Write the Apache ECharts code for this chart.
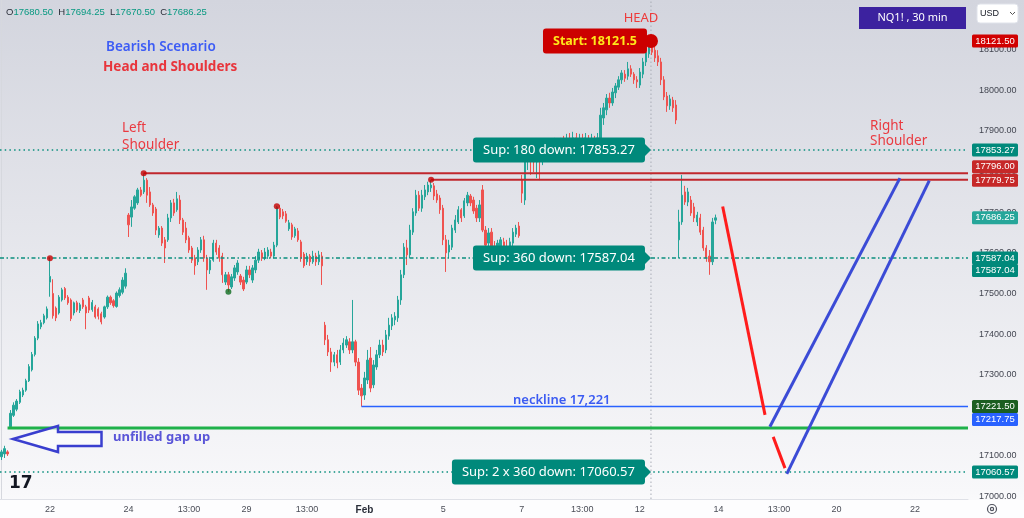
<!DOCTYPE html>
<html><head><meta charset="utf-8">
<script src="https://cdn.jsdelivr.net/npm/echarts@6/dist/echarts.min.js"></script>
<style>html,body{margin:0;padding:0;background:#fff}#c{width:1024px;height:518px}</style>
</head><body><div id="c"></div>
<script>
// ---------- time axis ----------
const sessionTimes = ['09:30','10:00','10:30','11:00','11:30','12:00','12:30','13:00','13:30','14:00','14:30','15:00','15:30'];
const jan18Times = ['14:30','15:00','15:30'];
const tradingDays = ['2024-01-19','2024-01-22','2024-01-23','2024-01-24','2024-01-25','2024-01-26','2024-01-29','2024-01-30','2024-01-31','2024-02-01','2024-02-02','2024-02-05','2024-02-06','2024-02-07','2024-02-08','2024-02-09','2024-02-12','2024-02-13'];
const futureDays = ['2024-02-14','2024-02-15','2024-02-16','2024-02-20','2024-02-21','2024-02-22','2024-02-23'];
const xTickLabels = {
  '2024-01-22 09:30':'22','2024-01-24 09:30':'24','2024-01-25 13:00':'13:00','2024-01-29 09:30':'29',
  '2024-01-30 13:00':'13:00','2024-02-01 09:30':'Feb','2024-02-05 09:30':'5','2024-02-07 09:30':'7',
  '2024-02-08 13:00':'13:00','2024-02-12 09:30':'12','2024-02-14 09:30':'14','2024-02-15 13:00':'13:00',
  '2024-02-20 09:30':'20','2024-02-22 09:30':'22'
};
const yTickLabels = [17000,17100,17200,17300,17400,17500,17600,17700,17800,17900,18000,18100];

// ---------- candles [open, close, low, high] ----------
const week3 = [ // Jan 18 (last bars) + Jan 19
[17098,17110,17090,17115],[17105,17118,17095,17125],[17110,17105,17100,17114],
[17172,17205,17169,17213],[17200,17225,17196,17232],[17215,17235,17210,17240],[17232,17258,17228,17263],
[17250,17262,17245,17268],[17262,17285,17258,17290],[17285,17320,17282,17326],[17312,17350,17308,17356],
[17350,17390,17345,17395],[17390,17425,17385,17432],[17418,17428,17412,17435],[17428,17445,17424,17450],
[17440,17462,17436,17468]];
const week4 = [ // Jan 22 - Jan 26
[17528,17542,17492,17587],[17500,17445,17438,17535],[17464,17440,17432,17468],[17452,17491,17448,17496],
[17484,17509,17480,17514],[17512,17489,17484,17516],[17491,17477,17472,17496],[17484,17438,17432,17488],
[17452,17477,17446,17480],[17477,17459,17454,17482],[17458,17472,17452,17477],[17484,17467,17462,17489],
[17467,17452,17412,17472],
[17489,17459,17452,17494],[17460,17478,17455,17484],[17467,17442,17438,17472],[17462,17444,17436,17466],
[17450,17430,17424,17455],[17442,17467,17438,17470],[17467,17491,17462,17495],[17491,17477,17472,17495],
[17482,17470,17465,17486],[17468,17501,17465,17505],[17495,17509,17490,17515],[17503,17533,17498,17540],
[17518,17550,17512,17562],
[17693,17669,17639,17698],[17688,17713,17664,17730],[17710,17738,17706,17742],[17723,17755,17718,17760],
[17755,17742,17738,17762],[17750,17779,17745,17796],[17779,17742,17723,17784],[17750,17718,17713,17762],
[17718,17698,17691,17723],[17708,17656,17644,17713],[17644,17661,17637,17666],[17661,17624,17617,17666],
[17632,17612,17575,17639],
[17632,17686,17627,17696],[17686,17723,17676,17730],[17723,17698,17691,17733],[17706,17733,17701,17750],
[17730,17681,17671,17742],[17681,17651,17644,17686],[17661,17632,17624,17676],[17637,17607,17600,17642],
[17612,17582,17575,17617],[17587,17568,17546,17595],[17578,17607,17570,17614],[17607,17632,17600,17639],
[17632,17587,17578,17642],
[17587,17558,17509,17595],[17558,17582,17548,17590],[17582,17624,17578,17632],[17624,17602,17595,17632],
[17612,17587,17578,17619],[17592,17546,17526,17600],[17528,17546,17521,17553],[17546,17521,17504,17553],
[17516,17541,17511,17548],[17538,17563,17531,17570],[17553,17575,17546,17582],[17543,17528,17521,17548],
[17533,17511,17506,17541]];
const week5 = [ // Jan 29 - Feb 2
[17528,17558,17523,17568],[17558,17546,17538,17568],[17533,17563,17526,17570],[17558,17582,17550,17592],
[17582,17602,17575,17610],[17600,17587,17580,17607],[17587,17602,17582,17612],[17592,17607,17585,17614],
[17602,17592,17587,17610],[17592,17619,17587,17627],[17619,17713,17614,17715],[17710,17688,17683,17718],
[17701,17691,17683,17708],
[17696,17678,17674,17703],[17659,17674,17654,17681],[17669,17639,17632,17674],[17642,17659,17637,17664],
[17654,17632,17627,17661],[17627,17587,17578,17632],[17597,17568,17563,17602],[17578,17592,17570,17600],
[17592,17578,17568,17597],[17578,17592,17573,17605],[17592,17578,17568,17600],[17578,17595,17570,17605],
[17592,17568,17521,17602],
[17422,17386,17373,17430],[17386,17356,17346,17398],[17356,17331,17307,17366],[17331,17349,17321,17356],
[17349,17329,17316,17361],[17331,17361,17324,17373],[17361,17378,17353,17390],[17373,17386,17366,17395],
[17381,17361,17351,17390],[17361,17381,17353,17484],[17381,17331,17321,17386],[17331,17262,17250,17341],
[17267,17248,17221.5,17277],
[17250,17292,17238,17307],[17287,17336,17277,17361],[17341,17267,17257,17368],[17275,17324,17267,17336],
[17319,17349,17312,17361],[17349,17373,17341,17386],[17373,17356,17346,17386],[17361,17398,17353,17410],
[17395,17422,17386,17440],[17420,17440,17410,17449],[17435,17444,17422,17454],[17440,17484,17430,17494],
[17484,17546,17472,17558],
[17546,17614,17538,17624],[17612,17595,17570,17632],[17595,17656,17587,17669],[17651,17701,17644,17710],
[17698,17742,17691,17755],[17742,17710,17703,17752],[17710,17742,17701,17755],[17738,17755,17730,17767],
[17750,17767,17742,17775],[17760,17767,17750,17779.75],[17765,17740,17730,17772],[17745,17730,17723,17755],
[17735,17706,17696,17742]];
const week6 = [ // Feb 5 - Feb 9
[17710,17632,17619,17718],[17632,17600,17553,17644],[17602,17619,17587,17632],[17614,17661,17607,17669],
[17656,17681,17649,17693],[17676,17706,17671,17715],[17706,17686,17676,17710],[17691,17728,17686,17735],
[17723,17742,17715,17750],[17740,17723,17715,17745],[17730,17703,17696,17738],[17710,17686,17676,17718],
[17686,17718,17676,17730],
[17755,17656,17651,17767],[17656,17619,17607,17666],[17624,17649,17614,17661],[17651,17612,17592,17661],
[17617,17595,17558,17629],[17595,17624,17578,17632],[17617,17632,17587,17639],[17627,17607,17578,17637],
[17614,17587,17563,17632],[17592,17627,17582,17637],[17624,17651,17617,17661],[17646,17661,17639,17669],
[17666,17642,17637,17676],
[17779,17747,17723,17792],[17730,17841,17718,17853],[17834,17858,17804,17878],[17858,17834,17792,17878],
[17836,17824,17799,17866],[17824,17853,17784,17866],[17853,17829,17779,17873],[17829,17848,17816,17866],
[17853,17834,17824,17870],[17834,17858,17824,17878],[17858,17841,17829,17878],[17841,17866,17834,17883],
[17863,17848,17834,17878],
[17848,17868,17829,17883],[17868,17853,17838,17888],[17853,17878,17841,17893],[17878,17858,17846,17895],
[17858,17883,17848,17898],[17883,17863,17848,17895],[17863,17878,17841,17893],[17878,17866,17853,17893],
[17866,17883,17853,17895],[17878,17863,17848,17890],[17863,17875,17853,17893],[17875,17861,17853,17888],
[17861,17883,17841,17895],
[17878,17939,17866,17957],[17932,17957,17915,17969],[17952,17981,17939,17991],[17981,17969,17957,17994],
[17969,17996,17962,18006],[17994,18011,17981,18018],[18008,18026,18001,18035],[18026,18043,18016,18050],
[18040,18030,18021,18050],[18035,18053,18026,18070],[18053,18040,18033,18062],[18040,18026,18016,18045],
[18026,18021,18006,18035]];
const week7 = [ // Feb 12 - Feb 13
[18013,18045,18006,18055],[18040,18070,18030,18080],[18070,18094,18060,18104],[18090,18109,18080,18121.5],
[18109,18094,18087,18119],[18099,18080,18070,18109],[18085,18070,18060,18099],[18070,18026,18013,18080],
[18026,17984,17976,18035],[17986,17962,17947,17996],[17962,17979,17952,17989],[17976,17957,17947,17984],
[17964,17927,17917,17976],
[17632,17676,17587,17706],[17676,17742,17669,17792],[17750,17725,17718,17765],[17725,17750,17715,17760],
[17730,17698,17691,17740],[17713,17686,17676,17723],[17676,17693,17666,17701],[17686,17651,17644,17696],
[17656,17612,17605,17664],[17612,17587,17578,17619],[17592,17578,17546,17607],[17578,17676,17570,17686],
[17680.5,17686.25,17670.5,17694.25]];

// ---------- drawings (x in bar index, y in price) ----------
const headIndex = 214.7;
const headPrice = 18121.5;
const supPrices = [17853.27, 17587.04, 17060.57];
const supTexts = ['Sup: 180 down: 17853.27', 'Sup: 360 down: 17587.04', 'Sup: 2 x 360 down: 17060.57'];
const shoulderLevels = [17796, 17779.75];
const shoulderStarts = [47, 142];
const necklinePrice = 17221.5, necklineStart = 119;
const gapPrice = 17169, gapStart = 2;
const pivotHighs = [[16,17587],[47,17796],[91,17715],[142,17779.75]];
const pivotLows = [[75,17504]];
const redPathA = [[238.4,17714],[252.4,17201]];
const redPathB = [[255.1,17147],[259.0,17070]];
const bluePathA = [[254.0,17172],[297.0,17784]];
const bluePathB = [[259.6,17056],[306.7,17778]];
const tagValues = [18121.50, 17853.27, 17796.00, 17779.75, 17686.25, 17587.04, 17587.04, 17221.50, 17217.75, 17060.57];
const tagColors = ['#d10000','#00897b','#c62828','#c62828','#26a69a','#00897b','#00897b','#1b5e20','#2962ff','#00897b'];
const tagShift = [0,0,-6.5,0.5,0,0,12.5,0,11.5,0];

// ---------- build ----------
const categories = [];
jan18Times.forEach(t => categories.push('2024-01-18 ' + t));
tradingDays.concat(futureDays).forEach(d => sessionTimes.forEach(t => categories.push(d + ' ' + t)));
const candles = [].concat(week3, week4, week5, week6, week7);
const lastBar = candles[candles.length - 1];
const lastX = 319.5;
const FONT = 'Noto Sans';

function seg(points, color, width, type, z) {
  return {type:'line', xAxisIndex:1, yAxisIndex:0, data:points, symbol:'none', silent:true,
    lineStyle:{color:color, width:width, type:type || 'solid'}, z: z || 4, animation:false};
}

const chart = echarts.init(document.getElementById('c'));
const option = {
  animation:false,
  backgroundColor:{type:'linear',x:0,y:0,x2:0,y2:1,colorStops:[{offset:0,color:'#d3d5de'},{offset:0.95,color:'#f8f8fa'},{offset:1,color:'#fdfdfe'}]},
  grid:{left:0,right:56,top:0,bottom:19},
  xAxis:[
    {type:'category', data:categories, max:319, boundaryGap:true,
     axisLine:{show:true,lineStyle:{color:'#dfe1e7'}}, axisTick:{show:false}, splitLine:{show:false},
     axisLabel:{interval:(i,v)=> (v in xTickLabels), formatter:v => v in xTickLabels ? (xTickLabels[v]==='Feb' ? '{b|Feb}' : xTickLabels[v]) : '',
       color:'#4a4d57', fontSize:9, fontFamily:'Liberation Sans', margin:6, rich:{b:{fontSize:10,fontWeight:'bold',color:'#2a2e39',fontFamily:'Liberation Sans'}}}},
    {type:'value', min:-0.5, max:lastX, show:false}
  ],
  yAxis:{type:'value', position:'right', min:16994, max:18222.5, splitNumber:12, scale:true,
    axisLine:{show:true,lineStyle:{color:'#d6d8de'}}, axisTick:{show:false}, splitLine:{show:false},
    axisLabel:{showMinLabel:false, showMaxLabel:false, color:'#434651', fontSize:9, fontFamily:'Liberation Sans', margin:11,
      formatter:v => yTickLabels.indexOf(Math.round(v)) >= 0 && Math.abs(v-Math.round(v))<0.01 ? Math.round(v).toFixed(2) : ''}},
  series:[
    {type:'candlestick', xAxisIndex:0, yAxisIndex:0, data:candles, barWidth:1.8, z:3,
     itemStyle:{color:'#26a69a', color0:'#ef5350', borderColor:'#26a69a', borderColor0:'#ef5350', borderWidth:1}},
    seg([[headIndex,16994],[headIndex,18222.5]], '#a9acb5', 1, [1.5,2.5], 2),
    seg([[-0.5,supPrices[0]],[lastX,supPrices[0]]], '#0a8f7e', 1.5, [1.5,3.2]),
    seg([[-0.5,supPrices[1]],[lastX,supPrices[1]]], '#0a8f7e', 1.5, [4,2.5,1.5,2.5]),
    seg([[-0.5,supPrices[2]],[lastX,supPrices[2]]], '#0a8f7e', 1.5, [1.5,3.2]),
    seg([[shoulderStarts[0],shoulderLevels[0]],[lastX,shoulderLevels[0]]], '#c0272d', 2),
    seg([[shoulderStarts[1],shoulderLevels[1]],[lastX,shoulderLevels[1]]], '#c0272d', 2),
    seg([[necklineStart,necklinePrice],[lastX,necklinePrice]], '#2962ff', 1.5),
    seg([[gapStart,gapPrice],[lastX,gapPrice]], '#1fb14a', 3),
    seg(redPathA, '#ff1c1c', 3, 'solid', 5),
    seg(redPathB, '#ff1c1c', 3, 'solid', 5),
    seg(bluePathA, '#3b4bd6', 3, 'solid', 5),
    seg(bluePathB, '#3b4bd6', 3, 'solid', 5),
    {type:'scatter', xAxisIndex:1, yAxisIndex:0, data:pivotHighs, symbolSize:6, itemStyle:{color:'#c40000'}, z:6, silent:true},
    {type:'scatter', xAxisIndex:1, yAxisIndex:0, data:pivotLows, symbolSize:6, itemStyle:{color:'#0d6b1e'}, z:6, silent:true}
  ]
};
chart.setOption(option);

function px(x, p) { return chart.convertToPixel({xAxisIndex:1, yAxisIndex:0}, [x, p]); }
const g = [];
g.push({type:'rect', shape:{x:0,y:500,width:1024,height:18}, style:{fill:'#fdfdfe'}, z:0});
const f2 = v => v.toFixed(2);
g.push({type:'text', x:6, y:12, z:100, style:{text:'{l|O}{v|'+f2(lastBar[0])+'}  {l|H}{v|'+f2(lastBar[3])+'}  {l|L}{v|'+f2(lastBar[2])+'}  {l|C}{v|'+f2(lastBar[1])+'}',
  verticalAlign:'middle', font:'9.5px Liberation Sans', rich:{l:{fill:'#2a2e39',font:'9.5px Liberation Sans'}, v:{fill:'#089981',font:'9.5px Liberation Sans'}}}});
g.push({type:'text', x:106, y:47, z:100, style:{text:'Bearish Scenario', fill:'#3d5cf5', font:'600 13.5px '+FONT, verticalAlign:'middle'}});
g.push({type:'text', x:103, y:67, z:100, style:{text:'Head and Shoulders', fill:'#e8353c', font:'bold 13.5px '+FONT, verticalAlign:'middle'}});
g.push({type:'text', x:641, y:18, z:100, style:{text:'HEAD', fill:'#ee3a3a', font:'13px '+FONT, align:'center', verticalAlign:'middle'}});
g.push({type:'text', x:122, y:120, z:100, style:{text:'Left\nShoulder', fill:'#ea3a40', font:'13.5px '+FONT, lineHeight:16.5, verticalAlign:'top'}});
g.push({type:'text', x:870, y:118, z:100, style:{text:'Right\nShoulder', fill:'#ea3a40', font:'13.5px '+FONT, lineHeight:15.5, verticalAlign:'top'}});
g.push({type:'text', x:513, y:400, z:100, style:{text:'neckline 17,221', fill:'#3b5bf2', font:'600 13px '+FONT, verticalAlign:'middle'}});
g.push({type:'text', x:113, y:437, z:100, style:{text:'unfilled gap up', fill:'#5a55d8', font:'bold 13px '+FONT, verticalAlign:'middle'}});
g.push({type:'polygon', z:100, shape:{points:[[13,439],[58,426],[58,432],[101.5,432],[101.5,446],[58,446],[58,452]]},
  style:{fill:'rgba(255,255,255,0.55)', stroke:'#3a3fcf', lineWidth:2.5, lineJoin:'miter'}});
supPrices.forEach((p, k) => {
  const [tx, ty] = px(headIndex, p);
  g.push({type:'polygon', z:100, shape:{points:[[tx-7,ty-7],[tx,ty],[tx-7,ty+7]]}, style:{fill:'#00897b'}});
  g.push({type:'text', x:tx-6, y:ty, z:101, style:{text:supTexts[k], fill:'#ffffff', font:'13px '+FONT,
    backgroundColor:'#00897b', padding:[6,10,6,10], borderRadius:3, align:'right', verticalAlign:'middle'}});
});
const [sx, sy] = px(headIndex, headPrice);
g.push({type:'text', x:sx-4, y:sy, z:101, style:{text:'Start: '+headPrice, fill:'#ffe81a', font:'bold 12.5px '+FONT,
  backgroundColor:'#cc0000', padding:[6,10,6,10], borderRadius:3, align:'right', verticalAlign:'middle'}});
g.push({type:'circle', z:102, shape:{cx:sx, cy:sy, r:7}, style:{fill:'#cc0000'}});
tagValues.forEach((v, k) => {
  const y = px(0, v)[1] + tagShift[k];
  g.push({type:'rect', z:110, shape:{x:972, y:y-6.5, width:46, height:13, r:1.5}, style:{fill:tagColors[k]}});
  g.push({type:'text', z:111, x:995, y:y, style:{text:v.toFixed(2), fill:'#ffffff', font:'9.5px Liberation Sans', align:'center', verticalAlign:'middle'}});
});
g.push({type:'rect', z:110, shape:{x:859, y:7, width:107, height:22}, style:{fill:'#3c229f'}});
g.push({type:'text', z:111, x:912.5, y:18, style:{text:'NQ1! , 30 min', fill:'#ffffff', font:'11px '+FONT, align:'center', verticalAlign:'middle'}});
g.push({type:'rect', z:110, shape:{x:977, y:4, width:41, height:19, r:3}, style:{fill:'#ffffff', stroke:'#e0e3eb'}});
g.push({type:'text', z:111, x:980, y:13.5, style:{text:'USD', fill:'#131722', font:'9px Liberation Sans', verticalAlign:'middle'}});
g.push({type:'polyline', z:111, shape:{points:[[1010,12],[1012.5,14.5],[1015,12]]}, style:{stroke:'#555', lineWidth:1, fill:null}});
g.push({type:'circle', z:111, shape:{cx:992, cy:509, r:4.5}, style:{fill:null, stroke:'#50535e', lineWidth:1.2}});
g.push({type:'circle', z:111, shape:{cx:992, cy:509, r:1.6}, style:{fill:null, stroke:'#50535e', lineWidth:1.2}});
g.push({type:'text', z:111, x:9, y:484, style:{text:'17', fill:'#131722', font:'bold 17px DejaVu Sans', verticalAlign:'middle'}});
chart.setOption({graphic:{elements:g}});
</script>
</body></html>
